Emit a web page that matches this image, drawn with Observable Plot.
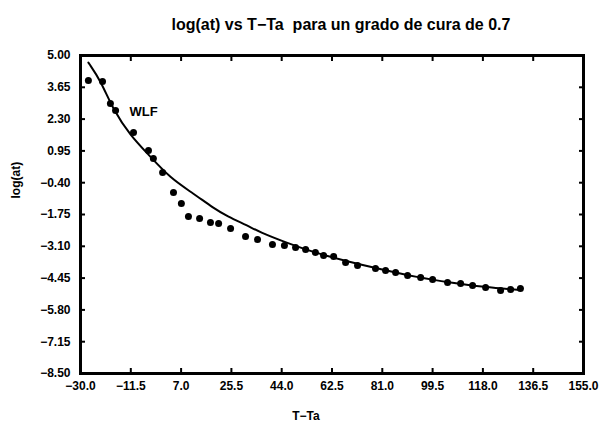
<!DOCTYPE html>
<html><head><meta charset="utf-8">
<script src="https://cdn.jsdelivr.net/npm/d3@7"></script>
<script src="https://cdn.jsdelivr.net/npm/@observablehq/plot@0.6"></script>
<style>
body{margin:0;background:#fff;}
#chart svg{font-family:"Liberation Sans",Arial,sans-serif;font-weight:bold;}
</style>
</head><body><div id="chart"></div>
<script>
const titleText = "log(at) vs T\u2212Ta  para un grado de cura de 0.7";
const xLabel = "T\u2212Ta";
const yLabel = "log(at)";
const curveLabel = "WLF";
const curveLabelX = -12.0;
const curveLabelY = 2.62;

const xTicks = [-30.0, -11.5, 7.0, 25.5, 44.0, 62.5, 81.0, 99.5, 118.0, 136.5, 155.0];
const yTicks = [5.00, 3.65, 2.30, 0.95, -0.40, -1.75, -3.10, -4.45, -5.80, -7.15, -8.50];

// WLF curve
const wlfX = [-27.1, -22.6, -17.9, -11.6, -5.4, 3.1, 11.6, 18.9, 24.1, 31.4, 36.2, 43.6, 55.7, 68.2, 80.3, 94.0, 106.1, 118.2, 131.8];
const wlfY = [4.70, 3.94, 2.67, 1.60, 0.84, -0.22, -0.86, -1.48, -1.83, -2.22, -2.51, -2.85, -3.36, -3.74, -4.07, -4.42, -4.64, -4.83, -4.96];

// measured points
const obsX = [-27.1, -21.9, -19.0, -17.1, -10.5, -5.0, -3.2, 0.2, 4.2, 7.1, 9.7, 13.8, 17.8, 20.8, 25.2, 30.7, 35.1, 40.6, 45.0, 49.1, 52.8, 56.4, 59.4, 63.1, 67.5, 71.9, 78.5, 82.2, 85.9, 90.3, 95.1, 99.5, 105.0, 109.8, 114.2, 119.0, 124.5, 128.2, 131.8];
const obsY = [3.94, 3.90, 2.96, 2.67, 1.73, 0.97, 0.63, 0.03, -0.82, -1.28, -1.83, -1.92, -2.09, -2.13, -2.34, -2.68, -2.81, -3.02, -3.07, -3.15, -3.24, -3.36, -3.49, -3.53, -3.79, -3.91, -4.04, -4.13, -4.21, -4.34, -4.42, -4.51, -4.64, -4.68, -4.76, -4.85, -4.98, -4.93, -4.89];

const wlf = wlfX.map((x, i) => ({x, y: wlfY[i]}));
const obs = obsX.map((x, i) => ({x, y: obsY[i]}));

const chart = Plot.plot({
  width: 602,
  height: 427,
  marginLeft: 80,
  marginRight: 19,
  marginTop: 55,
  marginBottom: 54,
  style: {background: "#fff", color: "#000", fontFamily: "Liberation Sans, Arial, sans-serif"},
  x: {domain: [-30, 155]},
  y: {domain: [-8.5, 5]},
  marks: [
    Plot.axisX({anchor: "bottom", ticks: xTicks, tickSize: -5, tickPadding: 13, strokeWidth: 2,
      tickFormat: d => d3.format(".1f")(d), label: null, fontSize: 12, fontWeight: "bold"}),
    Plot.axisX({anchor: "top", ticks: xTicks, tickSize: -5, strokeWidth: 2, tickFormat: () => "", label: null}),
    Plot.axisY({anchor: "left", ticks: yTicks, tickSize: -5, tickPadding: 15, strokeWidth: 2,
      tickFormat: d => d3.format(".2f")(d), label: null, fontSize: 12, fontWeight: "bold"}),
    Plot.axisY({anchor: "right", ticks: yTicks, tickSize: -5, strokeWidth: 2, tickFormat: () => "", label: null}),
    Plot.frame({stroke: "#000", strokeWidth: 3}),
    Plot.line(wlf, {x: "x", y: "y", curve: "basis", stroke: "#000", strokeWidth: 2}),
    Plot.dot(obs, {x: "x", y: "y", r: 3.5, fill: "#000", stroke: "none"}),
    Plot.text([curveLabel], {x: () => curveLabelX, y: () => curveLabelY, text: d => d, textAnchor: "start",
      fontSize: 13, fontWeight: "bold"}),
    Plot.text([titleText], {frameAnchor: "top", dy: -37, dx: 9, text: d => d, fontSize: 16, fontWeight: "bold"}),
    Plot.text([xLabel], {frameAnchor: "bottom", dy: 46, dx: -26, text: d => d, fontSize: 12, fontWeight: "bold"}),
    Plot.text([yLabel], {frameAnchor: "left", dx: -64, dy: -16, rotate: -90, text: d => d, fontSize: 12, fontWeight: "bold"})
  ]
});
document.getElementById("chart").appendChild(chart);
</script>
</body></html>
